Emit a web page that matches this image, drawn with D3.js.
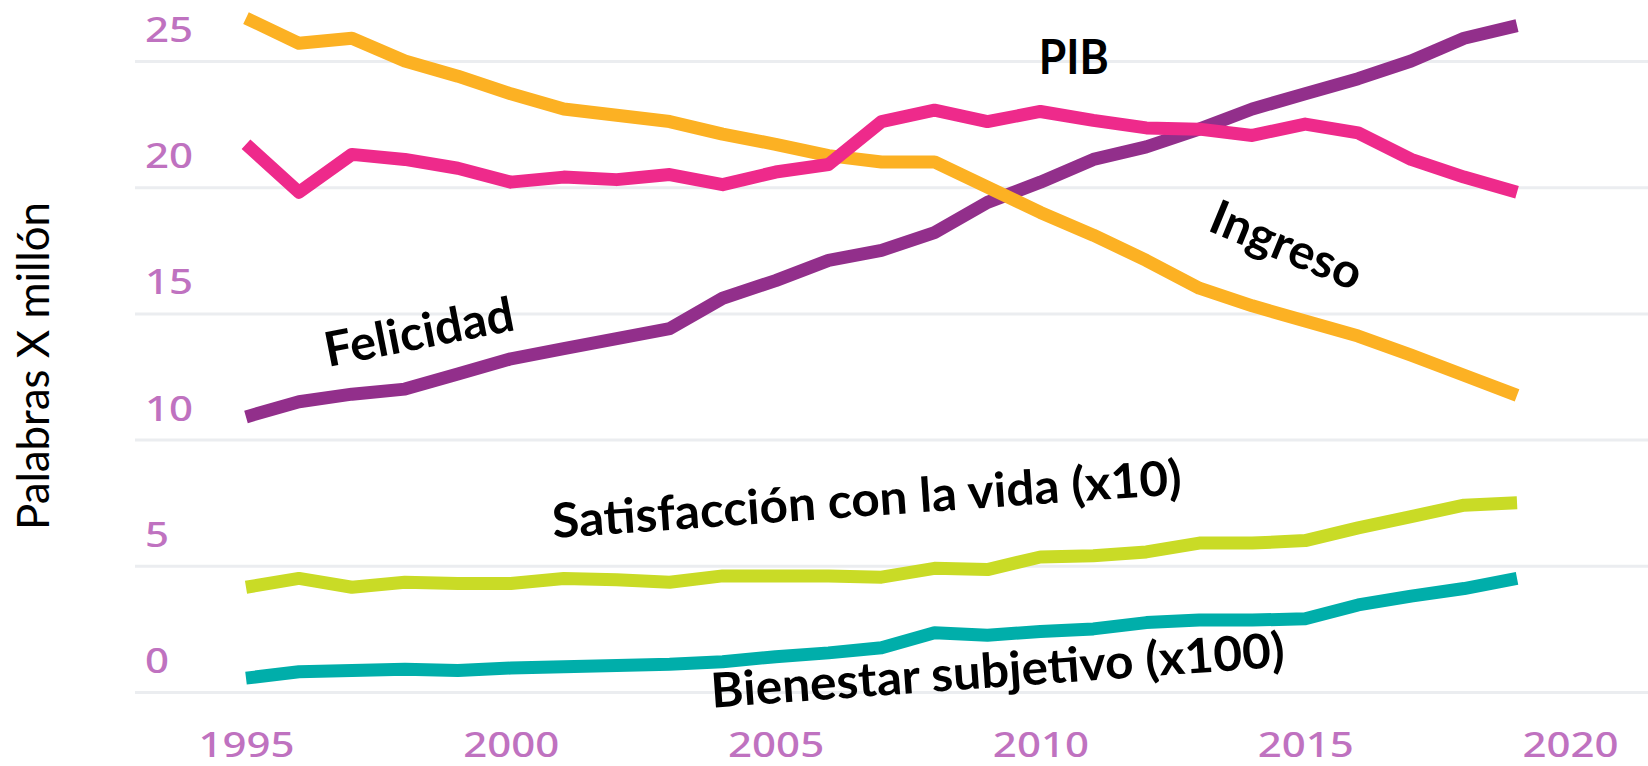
<!DOCTYPE html>
<html>
<head>
<meta charset="utf-8">
<script src="https://cdn.jsdelivr.net/npm/d3@7"></script>
<style>
  html, body { margin: 0; padding: 0; background: #ffffff; }
  svg { display: block; }
</style>
</head>
<body>
<svg id="chart"></svg>
<script>
// ─── Data (palabras por millón) ───────────────────────────────────────────────
const years        = [1995, 1996, 1997, 1998, 1999, 2000, 2001, 2002, 2003, 2004, 2005, 2006,
                      2007, 2008, 2009, 2010, 2011, 2012, 2013, 2014, 2015, 2016, 2017, 2018, 2019];
const felicidad    = [10.9, 11.5, 11.8, 12.0, 12.6, 13.2, 13.6, 14.0, 14.4, 15.6, 16.3, 17.1,
                      17.5, 18.2, 19.4, 20.2, 21.1, 21.6, 22.3, 23.1, 23.7, 24.3, 25.0, 25.9, 26.4];
const ingreso      = [26.7, 25.7, 25.9, 25.0, 24.4, 23.7, 23.1, 22.85, 22.6, 22.1, 21.7, 21.25,
                      21.0, 21.0, 20.0, 19.0, 18.1, 17.1, 16.0, 15.3, 14.7, 14.1, 13.35, 12.55, 11.75];
const pib          = [21.7, 19.8, 21.3, 21.1, 20.75, 20.2, 20.4, 20.3, 20.5, 20.1, 20.6, 20.9,
                      22.6, 23.05, 22.6, 23.0, 22.65, 22.35, 22.3, 22.05, 22.5, 22.15, 21.1, 20.4, 19.8];
const satisfaccion = [4.15, 4.5, 4.15, 4.35, 4.3, 4.3, 4.5, 4.45, 4.35, 4.6, 4.6, 4.6,
                      4.55, 4.9, 4.85, 5.35, 5.4, 5.55, 5.9, 5.9, 6.0, 6.5, 6.95, 7.4, 7.5];
const bienestar    = [0.55, 0.8, 0.85, 0.9, 0.85, 0.95, 1.0, 1.05, 1.1, 1.2, 1.4, 1.55,
                      1.75, 2.35, 2.25, 2.4, 2.5, 2.75, 2.85, 2.85, 2.9, 3.45, 3.8, 4.1, 4.5];

const yTicks = [0, 5, 10, 15, 20, 25];
const xTicks = [1995, 2000, 2005, 2010, 2015, 2020];
const yTitle = 'Palabras X millón';

// ─── Layout ───────────────────────────────────────────────────────────────────
const W = 1648, H = 766;
const GRID_X0 = 135;
const TICK_COLOR = '#bf72c0';

const x = d3.scaleLinear().domain([1995, 2020]).range([246, 1570]);
const y = d3.scaleLinear().domain([0, 25]).range([692, 61]);

const series = [
  { key: 'felicidad',    values: felicidad,    color: '#922f8b' },
  { key: 'ingreso',      values: ingreso,      color: '#fcb123' },
  { key: 'pib',          values: pib,          color: '#ee2a8b' },
  { key: 'satisfaccion', values: satisfaccion, color: '#c9db26' },
  { key: 'bienestar',    values: bienestar,    color: '#00aeaa' }
];

// label anchors are in data units (year, value), angle in degrees
const labels = [
  { text: 'PIB',                            year: 2010.63, value: 24.5,  angle: 0,     anchor: 'middle', len: 70  },
  { text: 'Ingreso',                        year: 2013.13, value: 18.3,  angle: 22.4,  anchor: 'start',  len: 160 },
  { text: 'Felicidad',                      year: 1996.55, value: 12.88, angle: -11.1, anchor: 'start',  len: 192 },
  { text: 'Satisfacción con la vida (x10)', year: 2000.8,  value: 6.1,   angle: -4,    anchor: 'start',  len: 631 },
  { text: 'Bienestar subjetivo (x100)',     year: 2003.8,  value: -0.62, angle: -4.1,  anchor: 'start',  len: 575 }
];

const svg = d3.select('#chart').attr('width', W).attr('height', H);

// ── Gridlines ─────────────────────────────────────────────────────────────────
const grid = svg.append('g')
  .attr('transform', `translate(${GRID_X0},0)`)
  .call(d3.axisLeft(y).tickValues(yTicks).tickSize(-(W - GRID_X0)).tickFormat(''));
grid.select('.domain').remove();
grid.selectAll('line').attr('stroke', '#ebedf0').attr('stroke-width', 3);

// ── Y tick labels (sit above their gridline) ──────────────────────────────────
svg.append('g').selectAll('text').data(yTicks).join('text')
  .attr('x', 145)
  .attr('y', d => y(d) - 19)
  .attr('font-family', '"Noto Sans", sans-serif')
  .attr('font-size', 35)
  .attr('font-weight', 500)
  .attr('fill', TICK_COLOR)
  .text(d => d);

// ── X axis ────────────────────────────────────────────────────────────────────
const xAxis = svg.append('g')
  .attr('transform', 'translate(0,732)')
  .call(d3.axisBottom(x).tickValues(xTicks).tickSize(0).tickPadding(0).tickFormat(d3.format('d')));
xAxis.select('.domain').remove();
xAxis.selectAll('text')
  .attr('font-family', '"Noto Sans", sans-serif')
  .attr('font-size', 35)
  .attr('font-weight', 500)
  .attr('fill', TICK_COLOR);

// widen the digits a little, the original uses a broad geometric face
svg.selectAll('text').each(function() {
  const w = this.getComputedTextLength();
  d3.select(this).attr('textLength', w * 1.2).attr('lengthAdjust', 'spacingAndGlyphs');
});

// ── Lines ─────────────────────────────────────────────────────────────────────
const line = d3.line()
  .x((d, i) => x(years[i]))
  .y(d => y(d));

svg.append('g').selectAll('path').data(series).join('path')
  .attr('d', d => line(d.values))
  .attr('fill', 'none')
  .attr('stroke', d => d.color)
  .attr('stroke-width', 13)
  .attr('stroke-linejoin', 'round')
  .attr('stroke-linecap', 'butt');

// ── Series labels ─────────────────────────────────────────────────────────────
svg.append('g').selectAll('text').data(labels).join('text')
  .attr('transform', d => `translate(${x(d.year)},${y(d.value)}) rotate(${d.angle})`)
  .attr('text-anchor', d => d.anchor)
  .attr('font-family', 'Lato, "Open Sans", sans-serif')
  .attr('font-weight', 700)
  .attr('font-size', 48)
  .attr('fill', '#000')
  .attr('textLength', d => d.len)
  .attr('lengthAdjust', 'spacingAndGlyphs')
  .text(d => d.text);

// ── Y title ───────────────────────────────────────────────────────────────────
svg.append('text')
  .attr('transform', 'translate(49,366) rotate(-90)')
  .attr('text-anchor', 'middle')
  .attr('font-family', 'Lato, "Open Sans", sans-serif')
  .attr('font-size', 44)
  .attr('fill', '#000')
  .attr('textLength', 328)
  .attr('lengthAdjust', 'spacingAndGlyphs')
  .text(yTitle);
</script>
</body>
</html>
